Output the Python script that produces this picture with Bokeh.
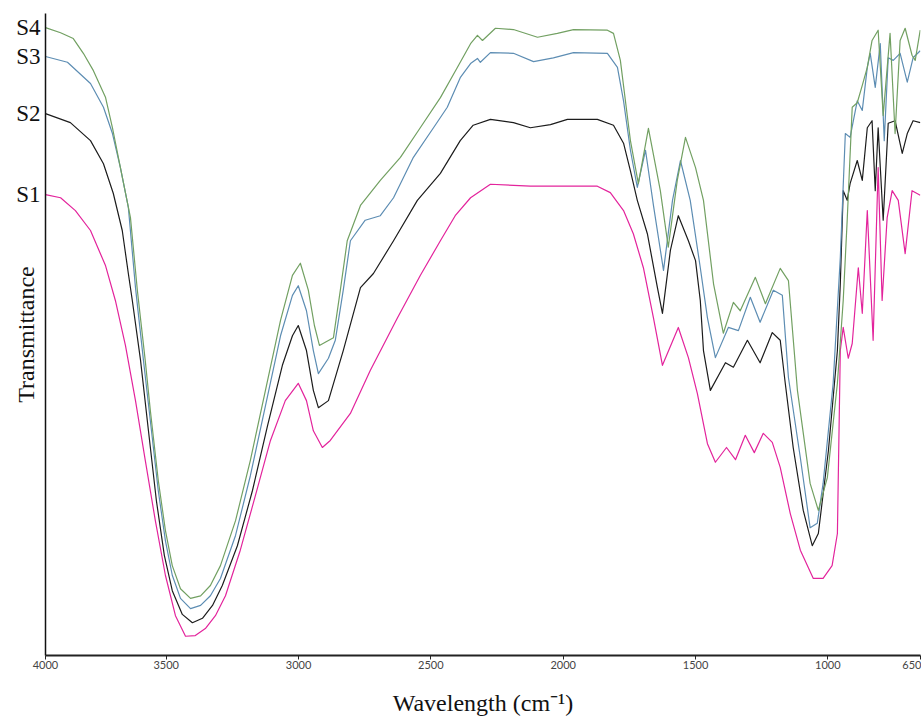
from bokeh.plotting import figure
from bokeh.models import Range1d, FixedTicker
from bokeh.embed import file_html
from bokeh.resources import INLINE

# ---------------- data (wavenumber, transmittance in arbitrary %) ----------------
wn_s4 = [3956, 3899, 3851, 3813, 3775, 3729, 3703, 3673, 3635, 3609, 3579, 3560, 3530, 3503,
         3477, 3446, 3408, 3370, 3333, 3295, 3238, 3182, 3125, 3068, 3023, 2993, 2963, 2940,
         2921, 2899, 2868, 2842, 2816, 2766, 2691, 2615, 2540, 2464, 2400, 2350, 2324, 2305,
         2256, 2188, 2097, 2022, 1961, 1833, 1810, 1784, 1757, 1746, 1716, 1678, 1633, 1603,
         1569, 1538, 1500, 1470, 1432, 1395, 1357, 1331, 1274, 1236, 1180, 1149, 1115, 1067,
         1036, 1002, 964, 942, 927, 908, 889, 870, 851, 833, 810, 791, 765, 746, 727, 708,
         682, 670, 651]
t_s4 = [97.8, 97.0, 96.1, 93.8, 91.1, 86.9, 82.2, 76.0, 68.2, 56.9, 45.9, 38.2, 27.3, 19.5,
        14.0, 10.4, 8.9, 9.3, 10.9, 14.0, 21.0, 30.4, 41.3, 52.2, 59.2, 61.1, 56.9, 51.4,
        48.3, 48.8, 49.5, 56.9, 64.6, 70.1, 74.0, 77.6, 82.2, 86.9, 91.6, 95.3, 96.6, 95.8,
        97.7, 97.5, 96.3, 96.9, 97.5, 97.4, 96.9, 92.7, 83.8, 80.2, 73.5, 82.1, 72.4, 63.6,
        74.0, 80.7, 76.0, 70.9, 57.9, 50.2, 55.0, 53.7, 58.9, 54.8, 60.3, 58.4, 41.3, 26.8,
        22.6, 27.7, 42.4, 55.3, 67.8, 85.4, 86.1, 88.8, 91.6, 95.8, 97.4, 84.1, 96.9, 81.3,
        95.8, 97.7, 93.5, 92.7, 97.4]

wn_s3 = [3956, 3873, 3786, 3737, 3703, 3673, 3643, 3616, 3586, 3560, 3530, 3503, 3477, 3446,
         3408, 3370, 3333, 3295, 3238, 3182, 3125, 3068, 3023, 3001, 2970, 2944, 2925, 2887,
         2861, 2831, 2804, 2748, 2691, 2641, 2566, 2490, 2438, 2389, 2350, 2324, 2313, 2275,
         2188, 2112, 2037, 1961, 1833, 1795, 1772, 1746, 1720, 1689, 1659, 1621, 1587, 1557,
         1520, 1482, 1455, 1425, 1376, 1338, 1293, 1256, 1206, 1172, 1149, 1104, 1067, 1040,
         1018, 980, 953, 934, 916, 889, 870, 851, 840, 821, 802, 787, 772, 753, 727, 700,
         678, 651]
t_s3 = [93.3, 92.4, 89.1, 85.4, 81.3, 76.0, 69.8, 57.3, 46.0, 36.6, 25.7, 17.9, 12.5, 8.9,
        7.3, 7.8, 9.3, 12.0, 18.7, 28.0, 38.9, 49.8, 56.1, 57.6, 53.7, 47.5, 43.9, 46.3,
        49.1, 56.9, 64.6, 67.8, 68.5, 71.3, 77.6, 82.2, 85.4, 90.0, 92.2, 93.0, 92.4, 93.9,
        93.8, 92.5, 93.1, 93.9, 93.8, 91.6, 86.4, 78.7, 72.9, 78.7, 70.1, 60.0, 70.9, 77.1,
        70.9, 60.4, 52.6, 46.4, 51.1, 50.6, 55.8, 51.9, 56.9, 56.1, 43.3, 30.8, 19.9, 20.6,
        26.8, 42.4, 62.0, 81.3, 80.7, 86.4, 84.9, 91.6, 93.8, 88.5, 95.3, 80.2, 93.1, 92.7,
        93.8, 89.3, 93.1, 94.2]

wn_s2 = [3956, 3862, 3786, 3737, 3700, 3666, 3643, 3628, 3597, 3567, 3537, 3507, 3477, 3439,
         3401, 3363, 3325, 3288, 3231, 3174, 3117, 3061, 3023, 3001, 2970, 2944, 2925, 2887,
         2831, 2766, 2717, 2641, 2551, 2464, 2389, 2340, 2275, 2188, 2124, 2048, 1984, 1871,
         1810, 1772, 1746, 1720, 1682, 1644, 1625, 1595, 1565, 1527, 1500, 1482, 1470, 1444,
         1387, 1357, 1304, 1256, 1210, 1180, 1161, 1131, 1093, 1059, 1036, 998, 964, 953,
         942, 927, 916, 889, 870, 851, 833, 821, 810, 791, 772, 746, 719, 700, 678, 651]
t_s2 = [84.4, 83.0, 80.2, 76.6, 72.0, 66.2, 59.5, 55.3, 46.0, 35.0, 24.1, 15.6, 10.1, 6.4,
        5.1, 5.8, 7.8, 10.9, 17.1, 25.7, 35.8, 45.2, 49.8, 51.4, 47.5, 41.3, 38.6, 39.7,
        47.5, 57.3, 59.5, 64.6, 70.9, 75.1, 80.2, 82.6, 83.5, 83.0, 82.2, 82.7, 83.5, 83.5,
        82.6, 79.8, 75.5, 70.9, 65.7, 57.3, 53.3, 63.1, 68.5, 64.6, 61.5, 55.3, 47.5, 41.3,
        45.6, 44.9, 49.1, 45.6, 50.3, 49.1, 42.4, 32.4, 22.6, 17.1, 19.0, 31.9, 47.5, 57.9,
        72.4, 70.9, 73.5, 77.1, 74.0, 82.2, 83.3, 72.4, 82.2, 67.8, 82.9, 83.3, 78.2, 81.3,
        83.3, 83.0]

wn_s1 = [3956, 3899, 3843, 3786, 3729, 3692, 3654, 3616, 3579, 3541, 3503, 3465, 3427, 3390,
         3352, 3314, 3276, 3220, 3163, 3106, 3050, 3001, 2970, 2944, 2910, 2880, 2804, 2729,
         2626, 2540, 2464, 2408, 2350, 2275, 2124, 1991, 1871, 1822, 1772, 1735, 1697, 1659,
         1625, 1565, 1527, 1493, 1455, 1425, 1383, 1349, 1312, 1278, 1244, 1210, 1180, 1142,
         1104, 1055, 1018, 984, 964, 953, 942, 923, 908, 885, 870, 851, 829, 810, 795, 776,
         757, 734, 708, 682, 651]
t_s1 = [71.8, 71.3, 69.3, 66.2, 60.7, 55.3, 48.3, 39.7, 30.4, 21.0, 12.5, 6.2, 3.0, 3.1,
        4.2, 6.2, 9.3, 16.4, 24.9, 33.5, 39.7, 42.4, 39.7, 35.0, 32.4, 33.5, 37.7, 44.4,
        52.6, 59.2, 64.6, 68.5, 71.3, 73.4, 73.1, 73.1, 73.1, 72.1, 69.3, 65.7, 60.4, 52.6,
        45.2, 51.1, 46.4, 40.8, 33.0, 30.1, 32.4, 30.5, 34.3, 31.6, 34.6, 33.2, 29.3, 22.1,
        16.4, 12.0, 12.0, 14.0, 19.0, 47.5, 51.1, 46.3, 48.6, 60.4, 53.3, 69.3, 49.1, 76.0,
        55.3, 68.2, 72.4, 70.9, 62.6, 72.4, 71.7]

names = ["S1", "S2", "S3", "S4"]
colors = ["#e3249c", "#1c1c1c", "#5d8db3", "#72a062"]
x_ticks = [3956, 3500, 3000, 2500, 2000, 1500, 1000, 650]
x_tick_labels = ["4000", "3500", "3000", "2500", "2000", "1500", "1000", "650"]

# ---------------- figure ----------------
p = figure(width=921, height=720, output_backend="svg", toolbar_location=None,
           x_range=Range1d(3956, 650), y_range=Range1d(0, 100),
           min_border_left=45, min_border_right=1, min_border_top=13, min_border_bottom=65)
p.outline_line_color = None
p.xgrid.visible = False
p.ygrid.visible = False
p.background_fill_color = "white"

series = [(wn_s1, t_s1), (wn_s2, t_s2), (wn_s3, t_s3), (wn_s4, t_s4)]
for (wn, t), col in zip(series, colors):
    p.line(wn, t, line_color=col, line_width=1.2, line_join="round")

# x axis
xa = p.xaxis[0]
xa.ticker = FixedTicker(ticks=x_ticks)
xa.major_label_overrides = dict(zip(x_ticks, x_tick_labels))
xa.axis_line_color = "#222222"
xa.axis_line_width = 2
xa.major_tick_out = 4
xa.major_tick_in = 0
xa.major_tick_line_color = "#222222"
xa.minor_tick_line_color = None
xa.major_label_text_font = "Lato"
xa.major_label_text_font_size = "11px"
xa.major_label_text_color = "#444444"
xa.major_label_standoff = 1
xa.axis_label = "Wavelength (cm\u207b\u00b9)"
xa.axis_label_text_font = "Liberation Serif"
xa.axis_label_text_font_size = "24px"
xa.axis_label_text_font_style = "normal"
xa.axis_label_text_color = "#111111"
xa.axis_label_standoff = 18

# y axis: series names sit at each curve's starting level
start_vals = [t[0] for _, t in series]
ya = p.yaxis[0]
ya.ticker = FixedTicker(ticks=start_vals)
ya.major_label_overrides = dict(zip(start_vals, names))
ya.axis_line_color = "#111111"
ya.axis_line_width = 1.5
ya.major_tick_line_color = None
ya.major_tick_out = 0
ya.major_tick_in = 0
ya.minor_tick_line_color = None
ya.major_label_text_font = "Liberation Serif"
ya.major_label_text_font_size = "23px"
ya.major_label_text_color = "#111111"
ya.major_label_standoff = 5
ya.axis_label = "Transmittance"
ya.axis_label_text_font = "Liberation Serif"
ya.axis_label_text_font_size = "24px"
ya.axis_label_text_font_style = "normal"
ya.axis_label_text_color = "#111111"
ya.axis_label_standoff = -26

open("out.html", "w").write(file_html(p, INLINE))
